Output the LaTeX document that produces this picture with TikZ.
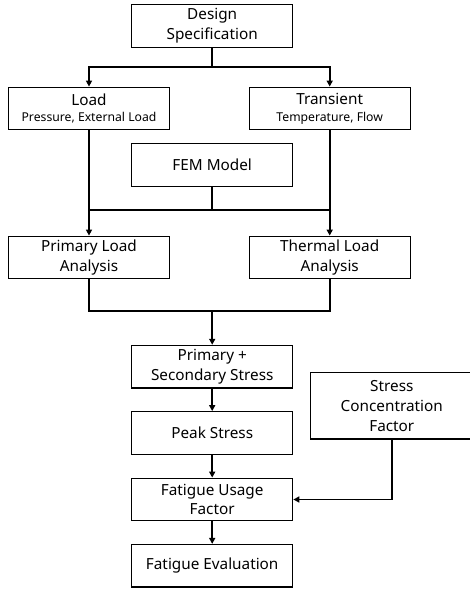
\documentclass[tikz,border=0pt]{standalone}
\usepackage{fontspec}
\setmainfont{Noto Sans}
\usetikzlibrary{arrows.meta}
\begin{document}
\begin{tikzpicture}[x=1pt,y=-1pt,
  box/.style={draw,line width=1.3pt,minimum width=161pt,minimum height=42.5pt,inner sep=0pt,align=center,font=\fontsize{15.3}{19.8}\selectfont},
  conn/.style={line width=1.7pt},
  arr/.style={line width=1.7pt,-{Triangle[length=6pt,width=6pt]}}]
\useasboundingbox (0,0) rectangle (470,589);
\node[box] (ds) at (212.2,26) {Design\\Specification};
\node[box] (load) at (89,108.5) {Load\\[-3pt]{\fontsize{12.2}{13}\selectfont Pressure, External Load}};
\node[box] (trans) at (329.7,108.5) {Transient\\[-3pt]{\fontsize{12.2}{13}\selectfont Temperature, Flow}};
\node[box] (fem) at (212.2,165) {FEM Model};
\node[box] (pla) at (89,257.5) {Primary Load\\Analysis};
\node[box] (tla) at (329.7,257.5) {Thermal Load\\Analysis};
\node[box] (pss) at (212.2,366.7) {Primary +\\Secondary Stress};
\node[box] (peak) at (212.2,433) {Peak Stress};
\node[box] (fuf) at (212.2,499.5) {Fatigue Usage\\Factor};
\node[box] (fe) at (212.2,565.8) {Fatigue Evaluation};
\node[box,draw=none,minimum height=65pt] (scf) at (391.8,405.8) {Stress\\Concentration\\Factor};
\draw[line width=1.3pt] ([xshift=30pt]scf.north east) -- (scf.north west) -- (scf.south west) -- ([xshift=30pt]scf.south east);
\coordinate (j1) at (212.2,67.3);
\coordinate (j2) at (212.2,210.3);
\coordinate (j3) at (212.2,311.3);
\draw[conn] (ds.south) -- (j1);
\draw[arr] (j1) -| (load.north);
\draw[arr] (j1) -| (trans.north);
\draw[conn] (fem.south) -- (j2);
\draw[conn] (load.south |- j2) -- (trans.south |- j2);
\draw[arr] (load.south) -- (pla.north);
\draw[arr] (trans.south) -- (tla.north);
\draw[conn] (pla.south) |- (j3) -| (tla.south);
\draw[arr] (j3) -- (pss.north);
\draw[arr] (pss.south) -- (peak.north);
\draw[arr] (peak.south) -- (fuf.north);
\draw[arr] (fuf.south) -- (fe.north);
\draw[arr] (scf.south) |- (fuf.east);
\end{tikzpicture}
\end{document}
